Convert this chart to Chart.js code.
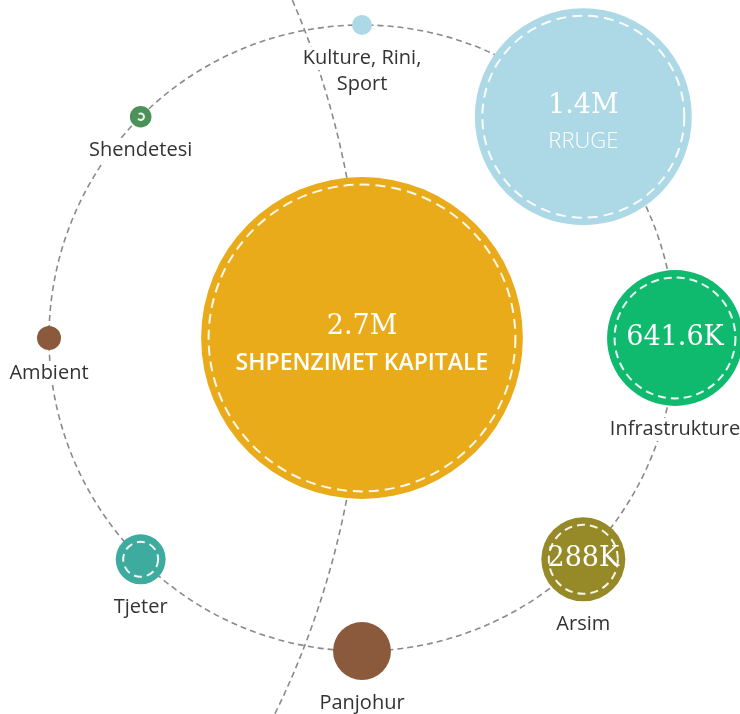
<!DOCTYPE html>
<html><head><meta charset="utf-8">
<script src="https://cdn.jsdelivr.net/npm/chart.js@4/dist/chart.umd.min.js"></script>
<style>html,body{margin:0;padding:0;background:#fff}#wrap{width:740px;height:714px;position:relative}</style>
</head><body><div id="wrap"><canvas id="c"></canvas></div>
<script>
// ---- data ----
const categories = ['SHPENZIMET KAPITALE', 'RRUGE', 'Infrastrukture', 'Arsim', 'Panjohur', 'Tjeter', 'Ambient', 'Shendetesi', ['Kulture, Rini,', 'Sport']];
const values = [2700000, 1400000, 641600, 288000, 155000, 121000, 35700, 29900, 26300];

// ---- style ----
const colors = ['#e9ab1a', '#add8e6', '#0fba6e', '#968a28', '#8b5a3c', '#3dab9e', '#8b5a3c', '#4b9158', '#add8e6'];
const dashedRing = [true, true, true, true, false, true, false, true, false];

const CX = 362, CY = 338, U = 313, W = 740, H = 714;

function fmt(v) {
  if (v >= 1e6) return (v / 1e6).toFixed(1).replace(/\.0$/, '') + 'M';
  return (v / 1e3).toFixed(1).replace(/\.0$/, '') + 'K';
}

// layout: centre item in middle, the rest on an orbit of radius 1 (clockwise from 45deg)
function pos(i) {
  if (i === 0) return { x: 0, y: 0 };
  const a = (45 - (i - 1) * 45) * Math.PI / 180;
  return { x: Math.cos(a), y: Math.sin(a) };
}
// bubble size (pixels) grows with value^0.6
function radiusFor(v) {
  return U * 0.514 * Math.pow(v / values[0], 0.6);
}
function unitPx(chart) {
  const x = chart.scales.x;
  return x.getPixelForValue(1) - x.getPixelForValue(0);
}

const orbitPlugin = {
  id: 'orbit',
  beforeDatasetsDraw(chart) {
    const { ctx, scales: { x, y } } = chart;
    const cx = x.getPixelForValue(0), cy = y.getPixelForValue(0);
    const u = unitPx(chart);
    ctx.save();
    ctx.strokeStyle = '#8a8a8a';
    ctx.lineWidth = 1.6;
    ctx.setLineDash([6, 4]);
    ctx.beginPath(); ctx.arc(cx, cy, u, 0, Math.PI * 2); ctx.stroke();
    const R = 2.73 * u;
    ctx.beginPath(); ctx.arc(cx - R, cy, R, -0.5, 0.5); ctx.stroke();
    ctx.restore();
  },
  afterDatasetsDraw(chart) {
    const { ctx } = chart;
    const meta = chart.getDatasetMeta(0);
    ctx.save();
    meta.data.forEach((el, i) => {
      const r = el.options.radius;
      const px = el.x, py = el.y;
      if (dashedRing[i]) {
        ctx.save();
        ctx.strokeStyle = 'rgba(255,255,255,0.92)';
        ctx.lineWidth = 2;
        ctx.setLineDash(r > 100 ? [10, 6] : [8, 5]);
        ctx.beginPath(); ctx.arc(px, py, Math.max(r - 7.5, 3), 0, Math.PI * 2); ctx.stroke();
        ctx.restore();
      }
      ctx.textAlign = 'center';
      ctx.textBaseline = 'middle';
      const name = categories[i];
      if (r >= 100) {
        ctx.fillStyle = '#ffffff';
        ctx.font = '27px "DejaVu Serif"';
        ctx.fillText(fmt(values[i]), px, py - 11);
        ctx.font = (i === 0 ? '600 23px' : '300 22px') + ' "Open Sans"';
        ctx.fillText(Array.isArray(name) ? name.join(' ') : name, px, py + 25);
      } else {
        if (r >= 40) {
          ctx.fillStyle = '#ffffff';
          ctx.font = '27px "DejaVu Serif"';
          ctx.fillText(fmt(values[i]), px, py);
        }
        const lines = Array.isArray(name) ? name : [name];
        ctx.font = '20px "Open Sans"';
        lines.forEach((ln, k) => {
          const ty = py + r + 23 + k * 26;
          const w = ctx.measureText(ln).width;
          ctx.fillStyle = '#ffffff';
          ctx.fillRect(px - w / 2 - 2, ty - 11, w + 4, 23);
          ctx.fillStyle = '#333333';
          ctx.fillText(ln, px, ty);
        });
      }
    });
    ctx.restore();
  }
};

new Chart(document.getElementById('c'), {
  type: 'bubble',
  data: {
    labels: categories,
    datasets: [{
      data: values.map((v, i) => Object.assign(pos(i), { r: radiusFor(v) })),
      backgroundColor: colors,
      hoverBackgroundColor: colors,
      borderWidth: 0,
      hoverBorderWidth: 0,
      hoverRadius: 0,
      clip: false
    }]
  },
  options: {
    responsive: true,
    maintainAspectRatio: false,
    animation: false,
    events: [],
    layout: { padding: 0, autoPadding: false },
    plugins: { legend: { display: false }, tooltip: { enabled: false }, title: { display: false } },
    scales: {
      x: { type: 'linear', display: false, min: -CX / U, max: (W - CX) / U },
      y: { type: 'linear', display: false, min: -(H - CY) / U, max: CY / U }
    }
  },
  plugins: [orbitPlugin]
});
</script>
</body></html>
